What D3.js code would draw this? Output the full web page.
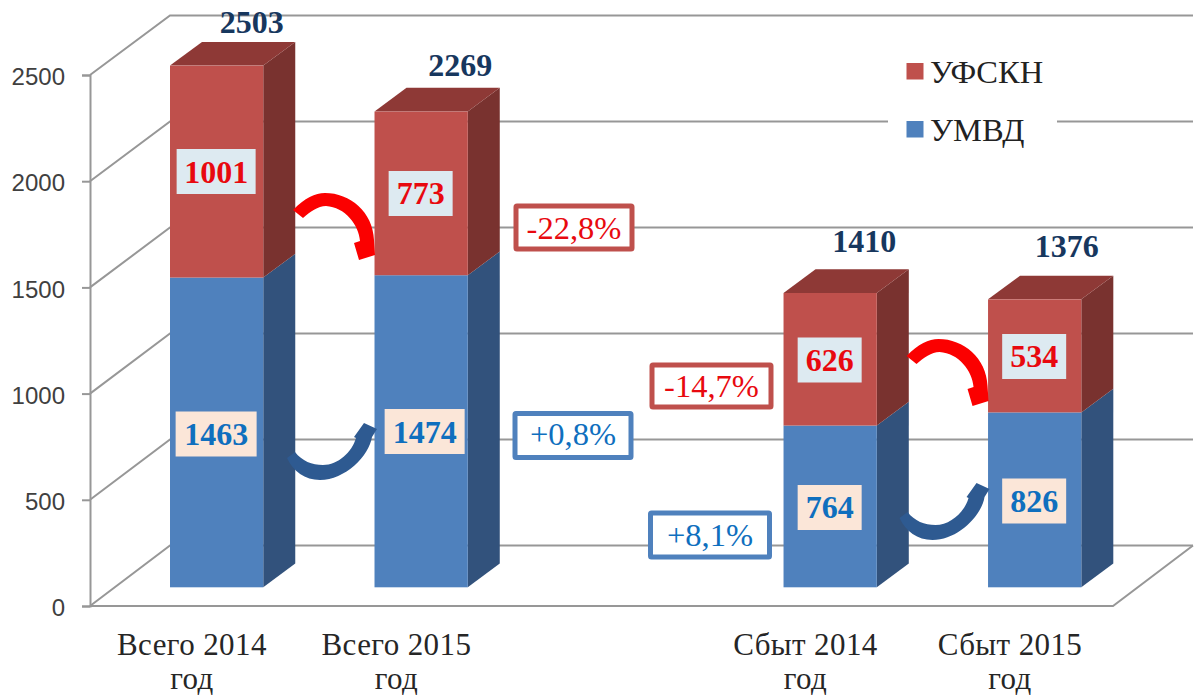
<!DOCTYPE html>
<html lang="ru">
<head>
<meta charset="utf-8">
<script src="https://cdn.jsdelivr.net/npm/d3@7"></script>
<style>
html,body{margin:0;padding:0;background:#fff;}
svg{display:block;}
text{font-family:"Liberation Serif",serif;}
</style>
</head>
<body>
<svg id="chart" width="1198" height="696"></svg>
<script>
const categories = ["Всего 2014", "Всего 2015", "", "Сбыт 2014", "Сбыт 2015"];
const umvd = [1463, 1474, null, 764, 826];
const ufskn = [1001, 773, null, 626, 534];
const totals = [2503, 2269, null, 1410, 1376];
const yTicks = [0, 500, 1000, 1500, 2000, 2500];
const seriesNames = ["УФСКН", "УМВД"];
const changeLabels = [
  {text: "-22,8%", kind: "red",  x: 513.5, y: 203.5, w: 121, h: 48, base: 239},
  {text: "+0,8%",  kind: "blue", x: 512.5, y: 411,   w: 121, h: 49, base: 445},
  {text: "-14,7%", kind: "red",  x: 649.5, y: 362.5, w: 124, h: 47, base: 397},
  {text: "+8,1%",  kind: "blue", x: 648,   y: 510.5, w: 124, h: 49, base: 546}
];

const C = {
  blue: {front: "#4F81BD", side: "#32527C", top: "#3A5F8F", text: "#0F6FBE", box: "#FBE6D8", arrow: "#2E5A91"},
  red:  {front: "#BF504C", side: "#79322F", top: "#8E3936", text: "#E8090F", box: "#DDEAF1", arrow: "#FB0000"},
  grid: "#979797"
};

const svg = d3.select("#chart");
const x = d3.scaleBand().domain(categories).range([170, 1081.3]).paddingInner(0.544).paddingOuter(0);
const axisY = d3.scaleLinear().domain([0, 2500]).range([606, 75]);
const backY = d3.scaleLinear().domain([0, 2500]).range([545.5, 15.5]);
const barY  = d3.scaleLinear().domain([0, 2500]).range([587.3, 58]);
const depth = {dx: 32, dy: -23.7};
const wall = {front: 90, back: 170, right: 1193, floorRight: 1113};

// walls and gridlines
const grid = svg.append("g").attr("stroke", C.grid).attr("stroke-width", 2).attr("fill", "none");
yTicks.forEach(t => {
  grid.append("path").attr("d", `M${wall.front},${axisY(t)}L${wall.back},${backY(t)}L${wall.right},${backY(t)}`);
});
grid.append("path").attr("d", `M${wall.front},${axisY(0)}L${wall.floorRight},${axisY(0)}L${wall.right},${backY(0)}`);

const axis = d3.axisLeft(axisY).tickValues(yTicks).tickSize(8).tickPadding(17).tickFormat(d3.format("d"));
const ag = svg.append("g").attr("transform", `translate(${wall.front},0)`).call(axis);
ag.selectAll("path,line").attr("stroke", C.grid).attr("stroke-width", 2);
ag.selectAll("text").attr("font-size", 24).attr("fill", "#404040")
  .style("font-family", '"Liberation Sans",sans-serif').attr("dy", "0.40em");

// legend
const legendBox = {x: 888, y: 45, w: 169, h: 115};
svg.append("rect").attr("x", legendBox.x).attr("y", legendBox.y).attr("width", legendBox.w).attr("height", legendBox.h).attr("fill", "#fff");
seriesNames.forEach((n, i) => {
  const c = i === 0 ? C.red : C.blue;
  const oy = 58 * i;
  svg.append("rect").attr("x", 906.5).attr("y", 63 + oy).attr("width", 17).attr("height", 16.5).attr("fill", c.front);
  svg.append("text").attr("x", 930).attr("y", 83 + oy).attr("font-size", 32.5).attr("fill", "#222").text(n);
});

// 3D stacked bars
function prism(g, xl, w, yTop, yBot, c, withTop) {
  const {dx, dy} = depth;
  g.append("polygon").attr("fill", c.side)
    .attr("points", [[xl + w, yBot], [xl + w + dx, yBot + dy], [xl + w + dx, yTop + dy], [xl + w, yTop]].join(" "));
  if (withTop) g.append("polygon").attr("fill", c.top)
    .attr("points", [[xl, yTop], [xl + dx, yTop + dy], [xl + w + dx, yTop + dy], [xl + w, yTop]].join(" "));
  g.append("rect").attr("x", xl).attr("y", yTop).attr("width", w).attr("height", yBot - yTop).attr("fill", c.front);
}
const bars = svg.append("g");
categories.forEach((cat, i) => {
  if (umvd[i] == null) return;
  const g = bars.append("g");
  prism(g, x(cat), x.bandwidth(), barY(umvd[i]), barY(0), C.blue, false);
  prism(g, x(cat), x.bandwidth(), barY(umvd[i] + ufskn[i]), barY(umvd[i]), C.red, true);
});

// value labels, placed by hand-read offsets from the bar
const inner = [
  {i: 0, v: umvd[0],  k: "blue", w: 81, cy: 434, base: 445},
  {i: 1, v: umvd[1],  k: "blue", w: 80, cy: 431.5, base: 443},
  {i: 3, v: umvd[3],  k: "blue", w: 64, cy: 507.5, base: 518},
  {i: 4, v: umvd[4],  k: "blue", w: 64, cy: 501, base: 512},
  {i: 0, v: ufskn[0], k: "red",  w: 79, cy: 171.5, base: 183},
  {i: 1, v: ufskn[1], k: "red",  w: 64, cy: 193.5, base: 204},
  {i: 3, v: ufskn[3], k: "red",  w: 64, cy: 360, base: 371},
  {i: 4, v: ufskn[4], k: "red",  w: 64, cy: 356.5, base: 367}
];
const lab = svg.append("g");
inner.forEach(d => {
  const cx = x(categories[d.i]) + x.bandwidth() / 2 - 0.5 + (d.w === 80 ? 4 : 0);
  lab.append("rect").attr("x", cx - d.w / 2).attr("y", d.cy - 22.5).attr("width", d.w).attr("height", 45).attr("fill", C[d.k].box);
  lab.append("text").attr("x", cx).attr("y", d.base).attr("text-anchor", "middle")
    .attr("font-size", 32).attr("font-weight", "bold").attr("fill", C[d.k].text).text(d.v);
});

// totals
const totalPos = [{dx: 36, y: 33}, {dx: 40, y: 76}, null, {dx: 35, y: 252}, {dx: 33, y: 257}];
categories.forEach((cat, i) => {
  if (totals[i] == null) return;
  lab.append("text").attr("x", x(cat) + x.bandwidth() / 2 + totalPos[i].dx - 1).attr("y", totalPos[i].y)
    .attr("text-anchor", "middle").attr("font-size", 32).attr("font-weight", "bold").attr("fill", "#17375E").text(totals[i]);
});

// category labels
categories.forEach(cat => {
  if (!cat) return;
  const cx = x(cat) + x.bandwidth() / 2 - 24.7;
  const t = svg.append("text").attr("text-anchor", "middle").attr("font-size", 31).attr("fill", "#262626").attr("letter-spacing", 0.4);
  t.append("tspan").attr("x", cx).attr("y", 655).text(cat);
  t.append("tspan").attr("x", cx).attr("y", 689).text("год");
});

// change boxes
changeLabels.forEach(d => {
  const c = C[d.kind];
  svg.append("rect").attr("x", d.x + 2.5).attr("y", d.y + 2.5).attr("width", d.w - 5).attr("height", d.h - 5)
    .attr("rx", 1).attr("fill", "#fff").attr("stroke", c.front).attr("stroke-width", 5);
  svg.append("text").attr("x", d.x + d.w / 2).attr("y", d.base).attr("text-anchor", "middle")
    .attr("font-size", 32.5).attr("fill", c.text).text(d.text);
});

// curved arrows between neighbouring bars
const redArrow = "M293,210C305,198 315,193 325,193C350,193 373,212 374,240L375,255L359,260L354,243L360,241C359,225 345,207 326,206C318,206 310,212 303,218Z";
const blueArrow = "M287,458L295,452C302,461 312,465 323,465C338,465 352,452 356,438L354,437L364,423L377,429L372,437C369,456 345,480 320,480C305,480 293,471 287,458Z";
const step = x(categories[3]) - x(categories[0]);
[[redArrow, C.red.arrow, 0, 0], [redArrow, C.red.arrow, step, 146],
 [blueArrow, C.blue.arrow, 0, 0], [blueArrow, C.blue.arrow, step - 1, 60]].forEach(a => {
  svg.append("path").attr("d", a[0]).attr("fill", a[1]).attr("transform", `translate(${a[2]},${a[3]})`);
});
</script>
</body>
</html>
